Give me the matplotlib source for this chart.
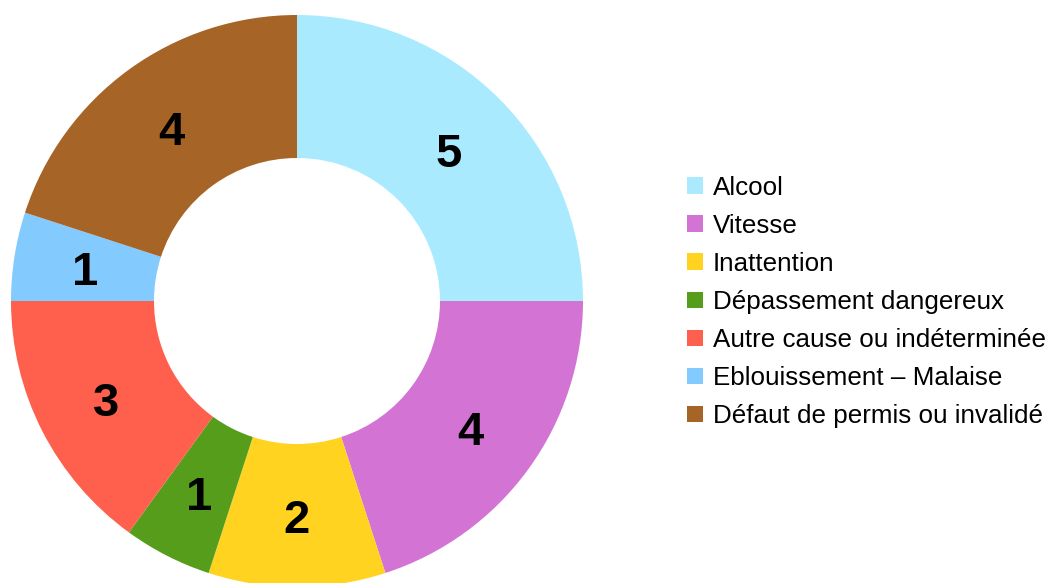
import matplotlib.pyplot as plt
import matplotlib.transforms as mtransforms

plt.rcParams['font.family'] = ['Liberation Sans', 'DejaVu Sans']

# données
causes = ["Alcool", "Vitesse", "Inattention", "Dépassement dangereux",
          "Autre cause ou indéterminée", "Eblouissement – Malaise",
          "Défaut de permis ou invalidé"]
valeurs = [5, 4, 2, 1, 3, 1, 4]
couleurs = ["#aaeaff", "#d374d4", "#ffd320", "#579d1c",
            "#ff5f4d", "#83caff", "#a66426"]

W, H = 1048, 583
fig = plt.figure(figsize=(W / 100, H / 100), dpi=100)

# centre et rayon en pixels
cx, cy, r = 297, 301, 286
ax = fig.add_axes([(cx - r) / W, (H - cy - r) / H, 2 * r / W, 2 * r / H])

total = sum(valeurs)
wedges, _, autotexts = ax.pie(
    valeurs, colors=couleurs, startangle=90, counterclock=False,
    wedgeprops=dict(width=0.5, linewidth=0),
    autopct=lambda p: f"{round(p * total / 100)}", pctdistance=0.75,
    textprops=dict(fontsize=34, fontweight="bold", color="black"))
ax.set_xlim(-1, 1)
ax.set_ylim(-1, 1)
ax.set_aspect("equal")

# petit décalage vers le bas des étiquettes
decal = mtransforms.ScaledTranslation(0, -6 / 100, fig.dpi_scale_trans)
for t in autotexts:
    t.set_transform(t.get_transform() + decal)

leg = fig.legend(wedges, causes, loc="upper left",
                 bbox_to_anchor=(687 / W, 1 - 176 / H),
                 frameon=False, fontsize=18.7,
                 handlelength=0.62, handleheight=0.62, handletextpad=0.38,
                 labelspacing=0.54, borderpad=0, borderaxespad=0)

plt.savefig("out.png", dpi=100)
